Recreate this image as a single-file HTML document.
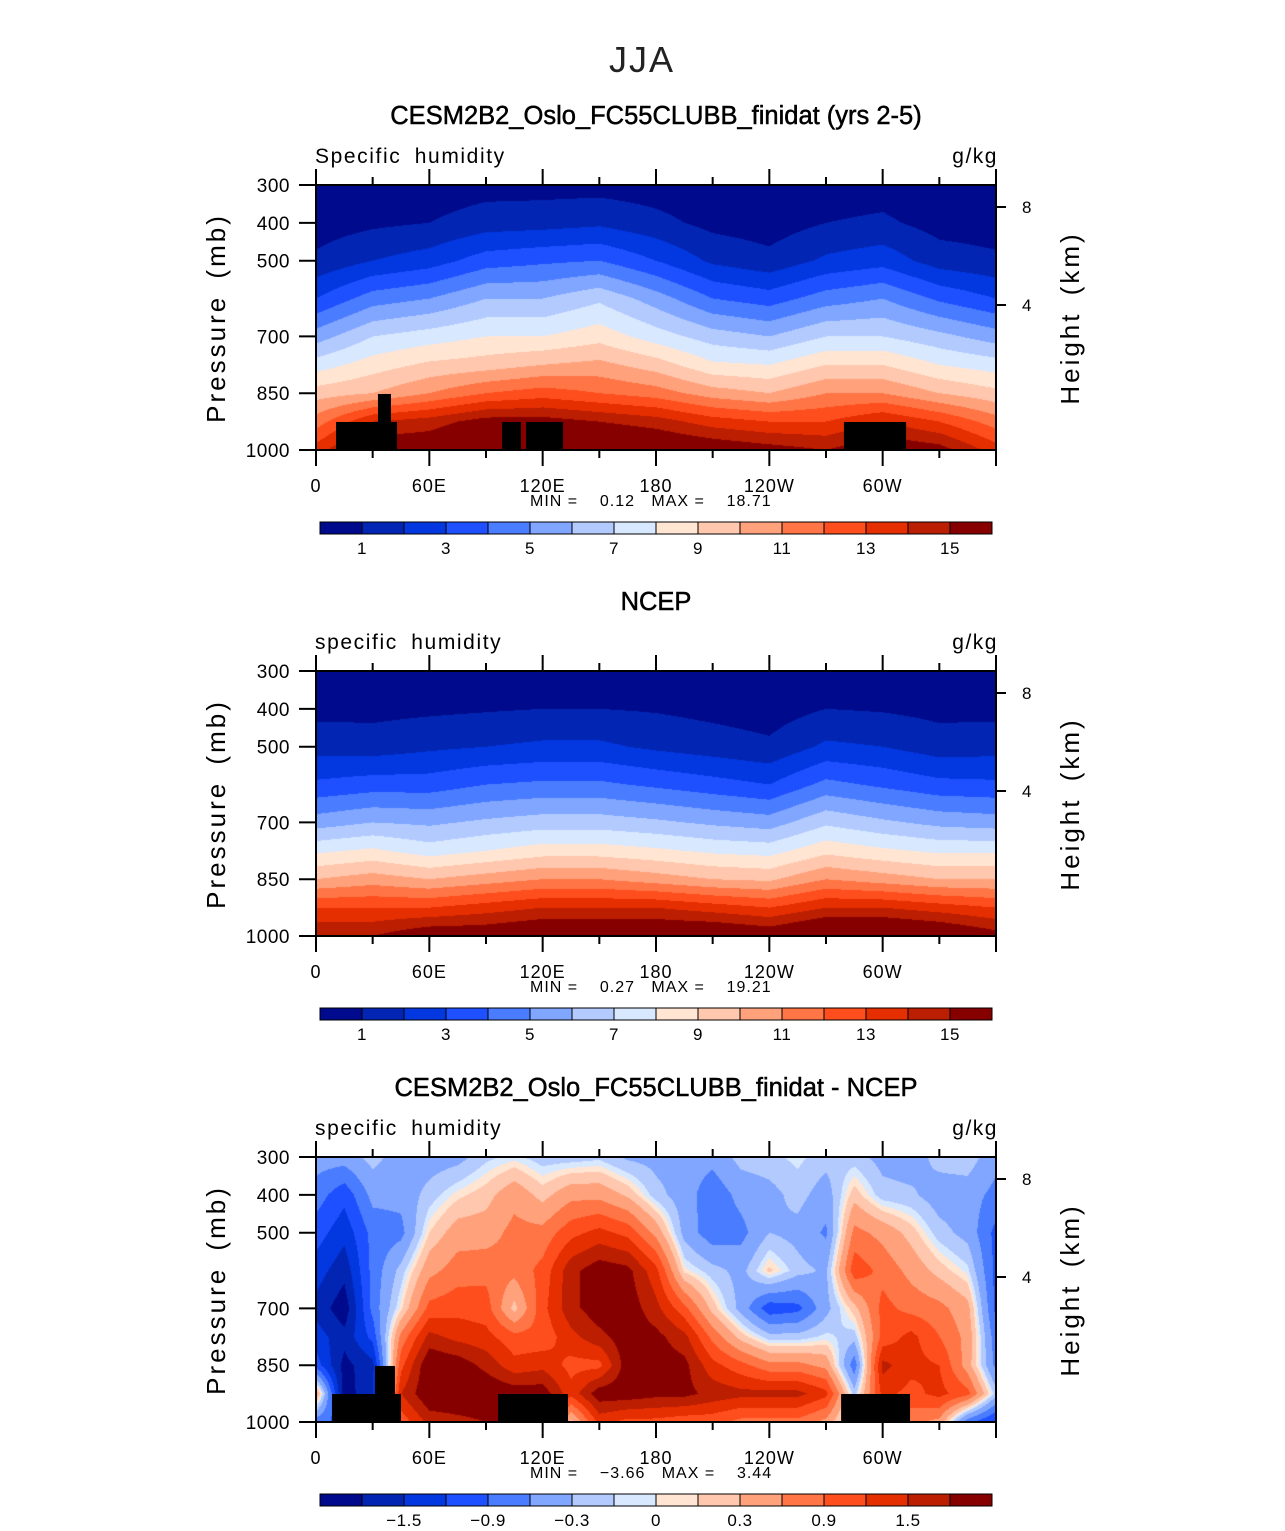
<!DOCTYPE html>
<html><head><meta charset="utf-8"><style>
body{margin:0;background:#fff;width:1285px;height:1531px;position:relative;overflow:hidden;font-family:"Liberation Sans",sans-serif}
canvas{position:absolute}
svg{position:absolute;left:0;top:0}
</style></head><body>
<canvas id="c0" width="680" height="265" style="left:316px;top:185px"></canvas>
<canvas id="c1" width="680" height="265" style="left:316px;top:671px"></canvas>
<canvas id="c2" width="680" height="265" style="left:316px;top:1157px"></canvas>
<svg id="ov" width="1285" height="1531">
<text x="642" y="72" font-size="36" text-anchor="middle" fill="#222" letter-spacing="2" style="font-weight:300">JJA</text>
</svg>
<script>
const pressLevels=[1000,925,850,775,700,600,500,400,300];
const lons30=[0,30,60,90,120,150,180,210,240,270,300,330,360];
const lons15=[0,15,30,45,60,75,90,105,120,135,150,165,180,195,210,225,240,255,270,285,300,315,330,345,360];
const qModel=[
[13.5,11.5,9.5,7.5,5.5,3,1.2,0.5,0.2],
[16,14,10,8.5,7,4.5,2,0.8,0.3],
[16,14.5,11,9.2,7.5,5,2.5,1,0.4],
[17,15.5,12,9.5,8,6,3.5,1.5,0.6],
[17,15.5,12.5,10,8,6,3.8,1.6,0.6],
[17,15,12,10.3,8.6,6.8,4,1.8,0.6],
[16.5,14.5,11.5,9.5,7.5,5.5,3,1.3,0.5],
[16,13.5,10.5,8.2,6.5,4,1.8,0.7,0.3],
[15.5,13,10,8,6,3.5,1.3,0.5,0.2],
[15,13,11,9,7,4.5,2.2,1,0.4],
[16,14,11,9,7,5,2.6,1.2,0.5],
[15.5,13,10,8,6.3,3.8,1.5,0.6,0.2],
[13.5,11.5,9.3,7.5,5.5,3,1.2,0.5,0.2]];
const qNcep=[
[15,13,10,7.8,5.5,3.2,1.6,0.7,0.2],
[15,13,10.5,8.2,6,3.5,1.5,0.7,0.2],
[16,13,10,7.5,5.8,3.5,1.8,0.8,0.3],
[16,13.5,10.5,8,6.2,4,2,0.9,0.3],
[16.5,14,11,8.5,6.5,4.2,2.2,1,0.4],
[16.5,14,11,8.5,6.5,4.2,2.2,1,0.4],
[16.5,14,10.5,8.2,6.2,3.8,1.8,0.9,0.3],
[16.5,13.5,10,7.8,5.8,3.4,1.5,0.7,0.2],
[16,13,9.8,7.6,5.5,3,1.2,0.5,0.15],
[17,14,11,8.7,6.8,4.3,2.2,1,0.35],
[17,14,10.5,8.2,6.2,3.8,2,0.9,0.3],
[16.5,13.5,10,7.8,5.7,3.3,1.5,0.7,0.2],
[15.5,13,10,7.8,5.5,3.2,1.6,0.7,0.2]];
const qDiff=[
[-0.8,0.5,-1.05,-1.35,-1.6,-1.35,-1.05,-0.75,-0.45],
[-1,-2,-1.9,-1.7,-2,-1.7,-1.4,-1.1,-0.45],
[-1,-1.5,-1.6,-1.1,-0.8,-0.8,-0.8,-0.5,-0.2],
[1,1.5,1.1,0.7,0.05,-0.2,-0.7,-0.5,-0.45],
[1.6,2.1,2.1,1.6,1.0,0.5,0.1,-0.2,-0.45],
[1.7,2.1,2.0,1.4,1.1,0.75,0.45,0.05,-0.4],
[1.8,2.1,1.7,1.3,1.05,0.8,0.45,0.2,-0.15],
[2,2,1.3,1.0,0.2,0.7,0.7,0.5,-0.05],
[2,2,1.4,1.0,1.1,1.0,0.7,0.2,-0.2],
[0.2,1.3,1.1,1.4,1.7,1.7,1.1,0.5,-0.2],
[1.3,2,1.1,1.7,2.0,2.0,1.3,0.5,-0.15],
[1.1,2.0,2.0,2.0,2.0,1.9,1.1,0.25,-0.35],
[1.1,1.9,2.0,1.9,1.6,1.3,0.5,-0.2,-0.4],
[1.0,1.9,1.9,1.6,1.0,0.05,-0.4,-0.45,-0.45],
[1.0,1.7,1.3,0.8,0.2,-0.2,-0.8,-0.8,-0.5],
[0.8,1.6,1.0,0.2,-0.4,-0.4,-0.7,-0.5,-0.2],
[0.8,1.6,0.7,-0.2,-1.1,0.15,-0.3,-0.4,-0.15],
[0.8,1.6,0.7,-0.2,-1.0,-0.2,-0.4,-0.2,-0.05],
[0.5,1.3,0.5,-0.05,-0.4,-0.35,-0.65,-0.45,-0.2],
[-0.3,-0.2,-0.8,-0.2,0.2,1.1,0.7,0.2,-0.2],
[1,1.3,1.6,1.0,1.0,0.8,0.5,-0.2,-0.4],
[0.7,1.1,1.3,1.3,0.8,0.5,0.2,-0.25,-0.45],
[0.5,1.3,1.2,0.9,0.7,0.2,-0.2,-0.45,-0.2],
[-0.8,1.0,0.45,0.5,0.4,-0.05,-0.4,-0.45,-0.15],
[-1.3,-0.2,-0.7,-0.8,-1.0,-1.0,-1.0,-0.7,-0.5]];
const levelsQ=[1,2,3,4,5,6,7,8,9,10,11,12,13,14,15];
const levelsD=[-1.8,-1.5,-1.2,-0.9,-0.6,-0.3,-0.1,0,0.1,0.3,0.6,0.9,1.2,1.5,1.8];
const labelsQ=["1","3","5","7","9","11","13","15"];
const labelsD=["\u22121.5","\u22120.9","\u22120.3","0","0.3","0.9","1.5"];
const palette=["#000a8c","#0226b3","#0337e0","#1e50ff","#4a7cff","#80a6ff","#b3caff","#d8e8ff","#ffe5d2","#ffc7ad","#ffa27c","#ff7545","#ff4e1e","#e52f00","#bb1e00","#870000"];
const topoModel=[[10.6,42.9,926],[32.8,39.7,852],[98.5,108.5,926],[111.2,130.8,926],[279.5,312.4,926]];
const topoDiff=[[8.5,45,926],[31.2,41.8,852],[96.4,133.4,926],[278,314.5,926]];
const xTicks=[0,60,120,180,240,300];
const xTickLabels=["0","60E","120E","180","120W","60W"];
const yTicks=[300,400,500,700,850,1000];
const hTicks=[8,4];const hTickY=[207,305];

const W=680,H=265;
function xOf(lon){return lon/360*W;}
function yOf(p){return (p-300)/700*H;}
function hex(c){return [parseInt(c.substr(1,2),16),parseInt(c.substr(3,2),16),parseInt(c.substr(5,2),16)];}
const palRGB=palette.map(hex);
function render(id,lons,data,levels){
  const ctx=document.getElementById(id).getContext('2d');
  const img=ctx.createImageData(W,H);
  const np=pressLevels.length;
  for(let px=0;px<W;px++){
    const lon=(px+0.5)/W*360;
    let i=0;while(i<lons.length-2&&lons[i+1]<lon)i++;
    const tx=(lon-lons[i])/(lons[i+1]-lons[i]);
    for(let py=0;py<H;py++){
      const p=300+(py+0.5)/H*700;
      let j=0;while(j<np-2&&pressLevels[j+1]>p)j++;
      const ty=(pressLevels[j]-p)/(pressLevels[j]-pressLevels[j+1]);
      const a=data[i][j]*(1-tx)+data[i+1][j]*tx;
      const b=data[i][j+1]*(1-tx)+data[i+1][j+1]*tx;
      const v=a*(1-ty)+b*ty;
      let k=0;for(const l of levels){if(v>=l)k++;}
      const c=palRGB[k];const o=(py*W+px)*4;
      img.data[o]=c[0];img.data[o+1]=c[1];img.data[o+2]=c[2];img.data[o+3]=255;
    }
  }
  ctx.putImageData(img,0,0);
}
render('c0',lons30,qModel,levelsQ);
render('c1',lons30,qNcep,levelsQ);
render('c2',lons15,qDiff,levelsD);

const svg=document.getElementById('ov');const NS='http://www.w3.org/2000/svg';
function el(tag,attrs,txt,parent){const e=document.createElementNS(NS,tag);for(const k in attrs)e.setAttribute(k,attrs[k]);if(txt!=null)e.textContent=txt;(parent||svg).appendChild(e);return e;}
const panels=[
 {off:0,title:"CESM2B2_Oslo_FC55CLUBB_finidat (yrs 2-5)",var:"Specific humidity",min:"0.12",max:"18.71",topo:topoModel,labels:labelsQ,lstart:1,lstep:2},
 {off:486,title:"NCEP",var:"specific humidity",min:"0.27",max:"19.21",topo:[],labels:labelsQ,lstart:1,lstep:2},
 {off:972,title:"CESM2B2_Oslo_FC55CLUBB_finidat - NCEP",var:"specific humidity",min:"\u22123.66",max:"3.44",topo:topoDiff,labels:labelsD,lstart:2,lstep:2}];
panels.forEach((P,pi)=>{
  const g=el('g',{});
  
  
  const o=P.off,X0=316,Y0=185+o;
  const t=el('text',{x:656,y:124+o,'font-size':25.5,'text-anchor':'middle',stroke:'#000','stroke-width':'0.5'},P.title,g);
  
  const v=el('text',{x:315,y:163+o,'font-size':21,'letter-spacing':'1.6','word-spacing':'6'},P.var,g);
  
  const u=el('text',{x:998,y:163+o,'font-size':21,'text-anchor':'end','letter-spacing':'1.5'},'g/kg',g);
  
  P.topo.forEach(r=>{
    const rr=el('rect',{x:X0+xOf(r[0]),y:Y0+yOf(r[2]),width:xOf(r[1])-xOf(r[0]),height:H-yOf(r[2]),fill:'#000'},null,g);
    
  });
  const fr=el('rect',{x:X0,y:Y0,width:W,height:H,fill:'none',stroke:'#000','stroke-width':2},null,g);
  
  for(let lon=0;lon<=360;lon+=30){
    const x=X0+xOf(lon),len=(lon%60===0)?16:8;
    el('line',{x1:x,y1:Y0+H,x2:x,y2:Y0+H+len,stroke:'#000','stroke-width':2},null,g);
    el('line',{x1:x,y1:Y0,x2:x,y2:Y0-len,stroke:'#000','stroke-width':2},null,g);
  }
  xTicks.forEach((lon,i)=>{
    const tl=el('text',{x:X0+xOf(lon),y:Y0+H+42,'font-size':18,'text-anchor':'middle','letter-spacing':'1'},xTickLabels[i],g);
    
  });
  yTicks.forEach(p=>{
    const y=Y0+yOf(p);
    el('line',{x1:X0,y1:y,x2:X0-17,y2:y,stroke:'#000','stroke-width':2},null,g);
    const tl=el('text',{x:290,y:y+7,'font-size':19,'text-anchor':'end','letter-spacing':'0.5'},String(p),g);
    
  });
  hTicks.forEach((h,i)=>{
    const y=hTickY[i]+o;
    el('line',{x1:X0+W,y1:y,x2:X0+W+10,y2:y,stroke:'#000','stroke-width':2},null,g);
    const tl=el('text',{x:1022,y:y+6,'font-size':17},String(h),g);
    
  });
  const yl=el('text',{x:0,y:0,'font-size':26,'text-anchor':'middle','letter-spacing':'3','word-spacing':'6',transform:`translate(225,${318+o}) rotate(-90)`},'Pressure (mb)',g);
  
  const hl=el('text',{x:0,y:0,'font-size':26,'text-anchor':'middle','letter-spacing':'3','word-spacing':'6',transform:`translate(1079,${318+o}) rotate(-90)`},'Height (km)',g);
  
  const mm=el('text',{x:530,y:506+o,'font-size':16,'letter-spacing':'1'},'',g);
  
  mm.textContent='MIN =    '+P.min+'   MAX =    '+P.max;
  mm.setAttribute('style','white-space:pre');
  const bw=672/16;
  palette.forEach((c,i)=>{
    const r=el('rect',{x:320+i*bw,y:522+o,width:bw,height:12,fill:c,stroke:'#000','stroke-width':1},null,g);
    
  });
  P.labels.forEach((lab,i)=>{
    const b=P.lstart+i*P.lstep;
    const tl=el('text',{x:320+b*bw,y:554+o,'font-size':17,'text-anchor':'middle','letter-spacing':'0.5'},lab,g);
    
  });
});
</script>
</body></html>
